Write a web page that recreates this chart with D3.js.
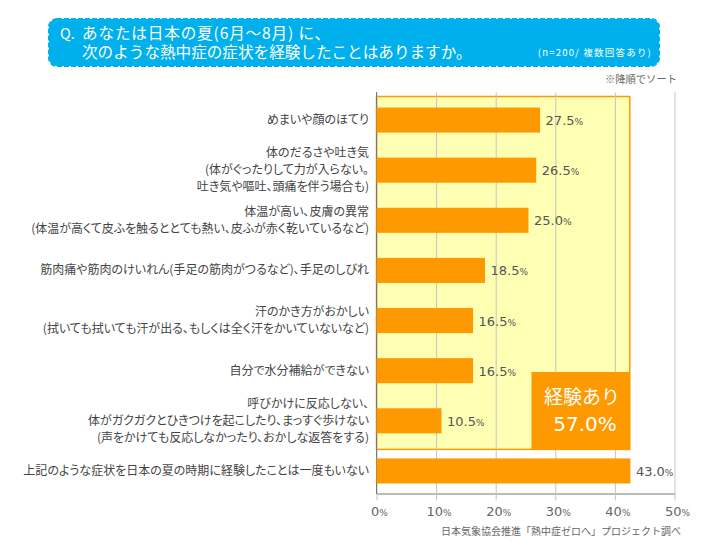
<!DOCTYPE html>
<html lang="ja">

<head>
    <meta charset="UTF-8">
    <title>熱中症の症状</title>
    <style>
        html, body { margin: 0; padding: 0; background: #fff; }
        text { font-family: "Noto Sans CJK JP", sans-serif; }
        .num { font-family: "DejaVu Sans", sans-serif; }
        .cat { font-feature-settings: "palt"; }
    </style>
</head>

<body>
    <div id="wrapper"></div>

    <script src="https://d3js.org/d3.v7.min.js"></script>
    <script>
        const categories = [
            "めまいや顔のほてり",
            "体のだるさや吐き気|(体がぐったりして力が入らない。|吐き気や嘔吐、頭痛を伴う場合も)",
            "体温が高い、皮膚の異常|(体温が高くて皮ふを触るととても熱い、皮ふが赤く乾いているなど)",
            "筋肉痛や筋肉のけいれん(手足の筋肉がつるなど)、手足のしびれ",
            "汗のかき方がおかしい|(拭いても拭いても汗が出る、もしくは全く汗をかいていないなど)",
            "自分で水分補給ができない",
            "呼びかけに反応しない、|体がガクガクとひきつけを起こしたり、まっすぐ歩けない|(声をかけても反応しなかったり、おかしな返答をする)",
            "上記のような症状を日本の夏の時期に経験したことは一度もいない"
        ];
        // bar lengths, printed labels kept separately
        const barLengths = [27.45, 26.8, 25.5, 18.2, 16.2, 16.2, 10.9, 42.6];
        const valueLabels = ["27.5", "26.5", "25.0", "18.5", "16.5", "16.5", "10.5", "43.0"];
        const xTicks = [0, 10, 20, 30, 40, 50];
        const experiencedEnd = 42.5;
        const experiencedStart = 26.0;
        const titleLines = ["あなたは日本の夏(6月〜8月) に、", "次のような熱中症の症状を経験したことはありますか。"];

        const svg = d3.select('#wrapper').append('svg')
            .attr('width', 710)
            .attr('height', 550)
            .style('display', 'block');

        const xScale = d3.scaleLinear().domain([0, 50]).range([376.5, 674.5]);
        const yScale = d3.scaleBand().domain(categories).range([95, 496]).paddingInner(0.5).paddingOuter(0.25);

        // タイトル
        svg.append('rect')
            .attr('x', 49).attr('y', 19)
            .attr('width', 610).attr('height', 47)
            .attr('rx', 8)
            .attr('fill', '#00b0ec')
            .attr('stroke', '#00b0ec')
            .attr('stroke-width', 2)
            .attr('stroke-dasharray', '5,2');
        svg.append('text')
            .attr('x', 60).attr('y', 39)
            .attr('fill', '#fff')
            .attr('font-size', 14.5)
            .text('Q.');
        svg.selectAll('.title')
            .data(titleLines)
            .join('text')
            .attr('class', 'title')
            .attr('x', 82)
            .attr('y', (d, i) => 39 + i * 18.5)
            .attr('fill', '#fff')
            .attr('font-size', 15.6)
            .attr('letter-spacing', (d, i) => i === 0 ? 0.85 : 0)
            .text(d => d);
        svg.append('text')
            .attr('x', 652).attr('y', 56)
            .attr('text-anchor', 'end')
            .attr('fill', '#fff')
            .attr('font-size', 9.5)
            .attr('letter-spacing', 1.2)
            .text('(n=200/ 複数回答あり)');
        svg.append('text')
            .attr('x', 677).attr('y', 83)
            .attr('text-anchor', 'end')
            .attr('fill', '#666')
            .attr('font-size', 10.3)
            .text('※降順でソート');

        // 経験ありの背景
        const boxRight = xScale(experiencedEnd);
        const lastBandTop = yScale(categories[categories.length - 1]);
        svg.append('rect')
            .attr('x', xScale(0)).attr('y', 96.5)
            .attr('width', boxRight - xScale(0))
            .attr('height', lastBandTop - 9 - 96.5)
            .attr('fill', '#ffffb4')
            .attr('stroke', '#ff9900')
            .attr('stroke-width', 1.5);

        // X軸
        const xAxis = d3.axisBottom(xScale)
            .tickValues(xTicks)
            .tickSizeOuter(0)
            .tickSize(0)
            .tickFormat('');
        const axisG = svg.append('g')
            .attr('transform', 'translate(0,493.5)')
            .call(xAxis);
        axisG.select('.domain').attr('stroke', '#777').attr('stroke-width', 1);
        axisG.selectAll('.tick line')
            .attr('y1', -401)
            .attr('y2', 7)
            .attr('stroke', '#c4c4c4');

        const tickLabels = svg.selectAll('.xlabel')
            .data(xTicks)
            .join('text')
            .attr('class', 'xlabel num')
            .attr('x', d => xScale(d) + 3)
            .attr('y', 516)
            .attr('text-anchor', 'middle')
            .attr('fill', '#666')
            .attr('font-size', 13);
        tickLabels.append('tspan').text(d => d);
        tickLabels.append('tspan').attr('font-size', 9).text('%');

        // Y軸線
        svg.append('line')
            .attr('x1', xScale(0)).attr('x2', xScale(0))
            .attr('y1', 92).attr('y2', 494)
            .attr('stroke', '#777');

        // 棒
        svg.selectAll('.bar')
            .data(barLengths)
            .join('rect')
            .attr('class', 'bar')
            .attr('x', xScale(0))
            .attr('y', (d, i) => yScale(categories[i]))
            .attr('width', d => xScale(d) - xScale(0))
            .attr('height', yScale.bandwidth())
            .attr('fill', '#ff9900');

        // 値ラベル
        const valueTexts = svg.selectAll('.value')
            .data(barLengths)
            .join('text')
            .attr('class', 'value num')
            .attr('x', d => xScale(d) + 5.5)
            .attr('y', (d, i) => yScale(categories[i]) + yScale.bandwidth() / 2 + 5)
            .attr('fill', '#555')
            .attr('font-size', 13);
        valueTexts.append('tspan').text((d, i) => valueLabels[i]);
        valueTexts.append('tspan').attr('font-size', 9).text('%');

        // カテゴリラベル
        svg.selectAll('.cat')
            .data(categories)
            .join('text')
            .attr('class', 'cat')
            .attr('text-anchor', 'end')
            .attr('fill', '#444')
            .attr('font-size', 12)
            .each(function (d) {
                const lines = d.split('|');
                const cy = yScale(d) + yScale.bandwidth() / 2;
                d3.select(this).selectAll('tspan')
                    .data(lines)
                    .join('tspan')
                    .attr('x', 369)
                    .attr('y', (l, i) => cy + 4 + (i - (lines.length - 1) / 2) * 17)
                    .text(l => l);
            });

        // 経験あり
        svg.append('rect')
            .attr('x', xScale(experiencedStart)).attr('y', 372)
            .attr('width', boxRight - xScale(experiencedStart)).attr('height', 78)
            .attr('fill', '#ff9900');
        svg.append('text')
            .attr('x', 582).attr('y', 404)
            .attr('text-anchor', 'middle')
            .attr('fill', '#fff')
            .attr('font-size', 19)
            .text('経験あり');
        svg.append('text')
            .attr('class', 'num')
            .attr('x', 585).attr('y', 431)
            .attr('text-anchor', 'middle')
            .attr('fill', '#fff')
            .attr('font-size', 20)
            .text('57.0%');

        svg.append('text')
            .attr('x', 681).attr('y', 535)
            .attr('text-anchor', 'end')
            .attr('fill', '#666')
            .attr('font-size', 10)
            .text('日本気象協会推進「熱中症ゼロへ」プロジェクト調べ');
    </script>
</body>

</html>
